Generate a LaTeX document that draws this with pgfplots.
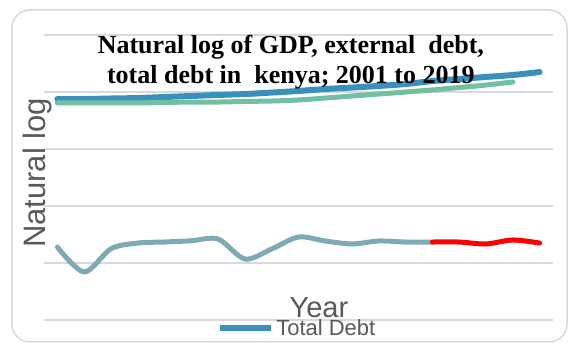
\documentclass[border=0pt]{standalone}
\usepackage{pgfplots}
\pgfplotsset{compat=1.18}
\usepackage{fontspec}
\setmainfont{Liberation Sans}
\newfontfamily\titlefont{Liberation Serif}
\definecolor{gridc}{HTML}{D9D9D9}
\definecolor{labelc}{HTML}{595959}
\definecolor{debtc}{HTML}{3A90BC}
\definecolor{extc}{HTML}{72BFA2}
\definecolor{gdpc}{HTML}{7EAAB5}
\begin{document}
\begin{tikzpicture}[x=1pt,y=1pt]
\useasboundingbox (0,0) rectangle (571,343);
\draw[gridc, line width=1.5pt, rounded corners=18pt] (12,1) rectangle (567,333);
\begin{axis}[
  at={(44pt,23pt)}, anchor=south west,
  scale only axis, width=509pt, height=285pt,
  xmin=-0.5, xmax=18.5, ymin=0, ymax=25,
  axis line style={draw=none},
  xtick=\empty, ytick={0,5,...,25}, yticklabels={}, major tick length=0pt,
  ymajorgrids, grid style={gridc, line width=1.5pt},
  title={Natural log of GDP, external\ \ debt,\\ total debt in\ \ kenya; 2001 to 2019},
  title style={at={(axis description cs:0.485,1)}, anchor=north, yshift=-6pt, inner sep=0pt,
    font=\titlefont\bfseries\fontsize{26}{29.5}\selectfont, align=center, text=black},
  ylabel={Natural log},
  ylabel style={at={(axis description cs:0.002,0.516)}, anchor=base, rotate=0,
    font=\fontsize{31}{34}\selectfont, text=labelc},
  xlabel={Year},
  xlabel style={at={(axis description cs:0.54,0)}, anchor=base, yshift=2pt,
    font=\fontsize{29}{32}\selectfont, text=labelc},
  legend style={at={(axis description cs:0.340,-0.028)}, anchor=west, draw=none, fill=none,
    font=\fontsize{22}{24}\selectfont, text=labelc, inner sep=0pt},
  legend image code/.code={\draw[#1, line width=6pt, line cap=butt] (0pt,0pt) -- (51pt,0pt);},
]
\addplot[debtc, line width=6pt, smooth, line cap=round] coordinates {
(0,19.38) (1,19.38) (2,19.43) (3,19.47) (4,19.56) (5,19.65) (6,19.74) (7,19.82) (8,19.95)
(9,20.09) (10,20.26) (11,20.39) (12,20.53) (13,20.70) (14,20.96) (15,21.14) (16,21.32) (17,21.49) (18,21.75)};
\addlegendentry{Total Debt}
\addplot[extc, line width=5pt, smooth, line cap=round] coordinates {
(0,19.04) (1,19.04) (2,19.04) (3,19.04) (4,19.08) (5,19.12) (6,19.12) (7,19.17) (8,19.21)
(9,19.30) (10,19.47) (11,19.65) (12,19.82) (13,20.00) (14,20.18) (15,20.39) (16,20.61) (17,20.88)};
\addplot[gdpc, line width=5pt, smooth, line cap=round] coordinates {
(0,6.40) (1,4.21) (2,6.25) (3,6.75) (4,6.84) (5,6.95) (6,7.10) (7,5.35) (8,6.23)
(9,7.28) (10,6.93) (11,6.67) (12,6.93) (13,6.84) (14,6.84)};
\addplot[red, line width=5pt, smooth, line cap=round] coordinates {
(14,6.84) (15,6.84) (16,6.67) (17,7.02) (18,6.75)};
\end{axis}
\end{tikzpicture}
\end{document}
